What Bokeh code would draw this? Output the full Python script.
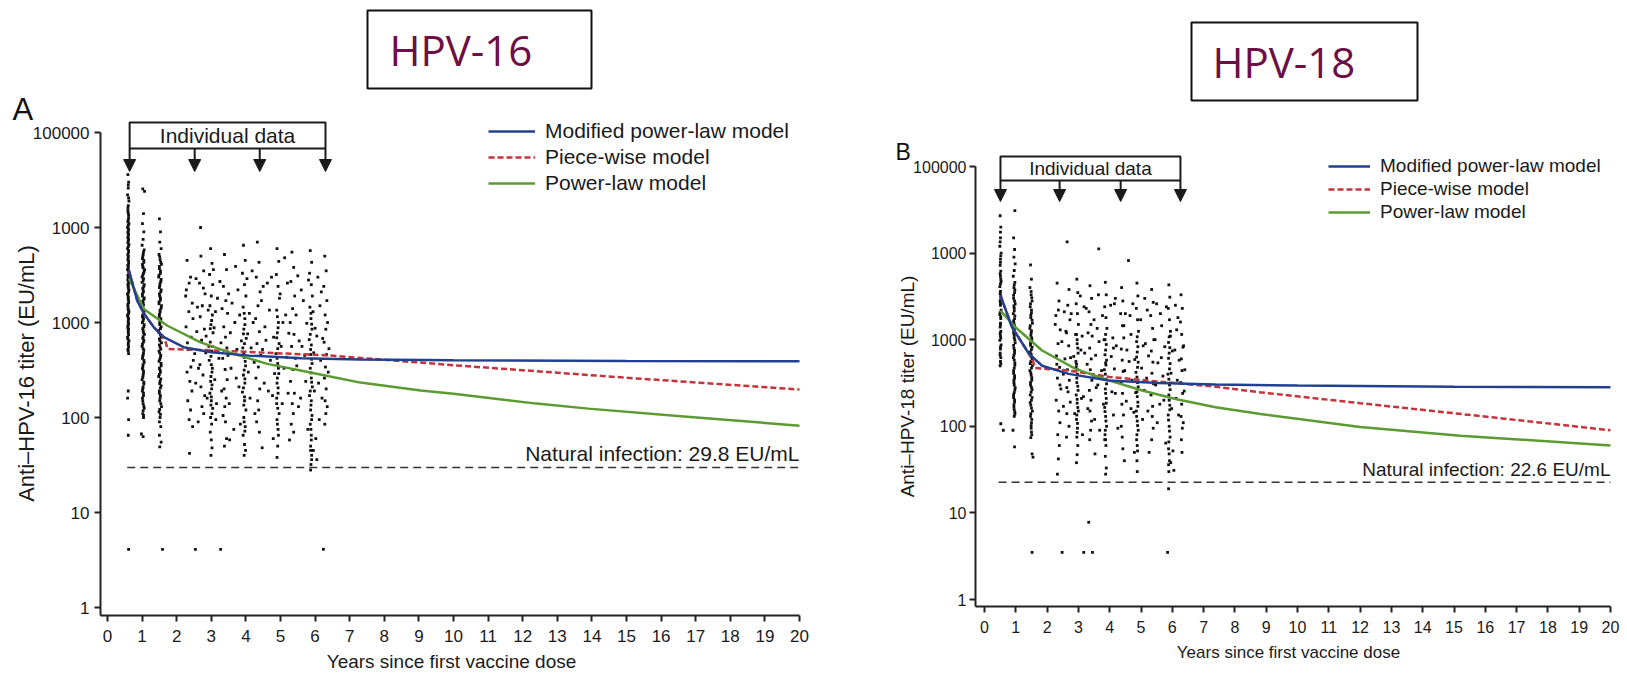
import math
from bokeh.plotting import figure
from bokeh.layouts import row
from bokeh.models import (Range1d, FixedTicker, Label, Legend, LegendItem,
                          Arrow, NormalHead, BoxAnnotation)
from bokeh.embed import file_html
from bokeh.resources import INLINE

# ---------------------------------------------------------------- data
year_ticks = list(range(0, 21))
titer_ticks = [1, 10, 100, 1000, 10000, 100000]
titer_tick_labels = ["1", "10", "100", "1000", "1000", "100000"]
model_names = ["Modified power-law model", "Piece-wise model", "Power-law model"]

# HPV-16 (panel A) model curves: years, EU/mL
a_mod_x = [0.62, 0.86, 1.05, 1.34, 1.63, 2.2, 3.0, 4.1, 5.6, 7.3, 10, 15, 20]
a_mod_y = [3520, 1700, 1245, 890, 700, 550, 486, 448, 420, 407, 400, 393, 390]
a_pw_x = [0.62, 0.86, 1.05, 1.34, 1.58, 1.68, 1.74, 3.0, 4.5, 6.4, 10, 15, 20]
a_pw_y = [3520, 1700, 1245, 890, 730, 620, 525, 510, 482, 450, 355, 262, 197]
a_pl_x = [0.62, 1.05, 1.72, 2.69, 3.65, 4.62, 5.58, 6.54, 7.31, 9.05, 10, 12.4, 13.9, 16.75, 20]
a_pl_y = [2900, 1390, 930, 617, 468, 367, 313, 265, 233, 192, 178, 140, 124, 102, 82]
a_natural = 29.8
a_natural_x = [0.57, 20]
a_visits = [0.64, 2.52, 4.40, 6.30]

# HPV-18 (panel B) model curves
b_mod_x = [0.51, 0.88, 1.42, 1.84, 2.69, 3.97, 5.57, 7.38, 10, 15, 20]
b_mod_y = [3240, 1393, 688, 500, 403, 338, 316, 304, 295, 287, 282]
b_pw_x = [0.51, 0.88, 1.42, 1.55, 1.62, 2.7, 4.0, 5.5, 7.4, 8.8, 12, 16.3, 20]
b_pw_y = [3240, 1393, 688, 560, 470, 440, 372, 330, 286, 247, 185, 126, 90]
b_pl_x = [0.51, 0.99, 1.84, 2.91, 3.97, 5.04, 6.1, 7.38, 8.82, 12.0, 15.2, 20]
b_pl_y = [2170, 1390, 750, 461, 339, 259, 207, 166, 139, 98, 78, 60]
b_natural = 22.6
b_natural_x = [0.45, 20]
b_visits = [0.51, 2.40, 4.35, 6.26]

# Individual titers, panel A: (years, EU/mL)
a_month7 = [(0.59,36000),(0.61,30000),(0.60,26000),(0.58,22000),(0.62,19000),(0.60,17000),(0.59,15000),(0.61,13500),(0.60,12000),(0.62,11000),(0.58,10000),(0.60,9200),(0.61,8500),(0.59,7800),(0.60,7200),(0.62,6600),(0.58,6000),(0.61,5500),(0.60,5000),(0.59,4600),(0.61,4200),(0.60,3900),(0.58,3600),(0.62,3300),(0.60,3000),(0.59,2800),(0.61,2600),(0.60,2400),(0.62,2200),(0.58,2000),(0.60,1850),(0.61,1700),(0.59,1550),(0.60,1400),(0.62,1300),(0.58,1200),(0.61,1100),(0.60,1000),(0.59,920),(0.61,850),(0.60,780),(0.58,700),(0.62,640),(0.60,580),(0.59,520),(0.61,470),(0.60,190),(0.58,160),(0.61,95),(0.60,65),(0.61,4.1),
    (0.60,28000),(0.61,20500),(0.59,16000),(0.60,14200),(0.61,12700),(0.59,11500),(0.60,10500),(0.61,9600),(0.59,8800),(0.60,8100),(0.61,7500),(0.59,6900),(0.60,6300),(0.61,5700),(0.59,5200),(0.60,4800),(0.61,4400),(0.59,4000),(0.60,3700),(0.61,3450),(0.59,3150),(0.60,2900),(0.61,2700),(0.59,2500),(0.60,2300),(0.61,2100),(0.59,1950),(0.60,1780),(0.61,1620),(0.59,1480),(0.60,1350),(0.61,1250),(0.59,1150),(0.60,1050),(0.61,960),(0.59,880),(0.60,820),(0.61,740),(0.59,670),(0.60,610),(0.61,550),(0.60,500)]
a_month12 = [(1.02,25500),(1.07,24000),(1.04,14000),(1.01,11000),(1.05,9000),(1.03,7500),(1.00,6500),(1.06,5800),(1.03,5200),(1.01,4700),(1.05,4300),(1.02,3900),(1.07,3600),(1.04,3300),(1.00,3000),(1.03,2750),(1.06,2500),(1.02,2300),(1.04,2100),(1.01,1900),(1.05,1750),(1.03,1600),(1.00,1450),(1.06,1330),(1.02,1200),(1.04,1100),(1.01,1000),(1.05,900),(1.03,820),(1.07,750),(1.02,680),(1.04,620),(1.00,560),(1.05,510),(1.03,460),(1.01,420),(1.06,380),(1.02,340),(1.04,310),(1.03,280),(1.00,250),(1.05,225),(1.02,200),(1.04,180),(1.01,160),(1.03,140),(1.06,125),(1.02,110),(1.04,100),(0.98,67),(1.03,63),
    (1.04,5500),(1.02,4900),(1.05,4500),(1.01,4100),(1.03,3750),(1.06,3450),(1.02,3150),(1.04,2900),(1.00,2650),(1.05,2400),(1.03,2200),(1.01,2000),(1.06,1820),(1.02,1680),(1.04,1520),(1.03,1390),(1.05,1270),(1.01,1150),(1.03,1050),(1.06,950),(1.02,860),(1.04,780),(1.03,710),(1.05,650),(1.01,590),(1.03,530),(1.04,480),(1.02,440),(1.05,400),(1.03,360),(1.01,325),(1.04,295),(1.02,265),(1.05,235),(1.03,210),(1.01,190),(1.04,170),(1.02,150),(1.05,132),(1.03,118),(1.04,105)]
a_month18 = [(1.50,12300),(1.53,9000),(1.51,7000),(1.55,6000),(1.49,5200),(1.52,4600),(1.56,4100),(1.50,3700),(1.53,3300),(1.48,3000),(1.54,2700),(1.51,2450),(1.55,2200),(1.50,2000),(1.53,1800),(1.49,1650),(1.56,1500),(1.52,1350),(1.50,1220),(1.54,1100),(1.51,1000),(1.55,900),(1.48,820),(1.53,740),(1.50,670),(1.56,610),(1.52,550),(1.49,500),(1.54,450),(1.51,410),(1.55,370),(1.50,330),(1.53,300),(1.48,270),(1.52,240),(1.55,215),(1.50,190),(1.53,170),(1.51,150),(1.56,130),(1.49,115),(1.52,100),(1.54,80),(1.50,65),(1.55,55),(1.51,49),(1.59,4.1),
    (1.51,4900),(1.54,4300),(1.50,3900),(1.53,3500),(1.49,3150),(1.55,2850),(1.52,2580),(1.50,2330),(1.54,2100),(1.51,1900),(1.53,1720),(1.49,1570),(1.55,1420),(1.52,1290),(1.50,1160),(1.54,1050),(1.51,950),(1.53,860),(1.49,780),(1.55,700),(1.52,640),(1.50,580),(1.54,525),(1.51,475),(1.53,430),(1.49,390),(1.55,350),(1.52,315),(1.50,285),(1.54,255),(1.51,228),(1.53,205),(1.50,180),(1.52,160),(1.54,140),(1.51,122),(1.53,108),(1.50,90)]
a_followup = [(2.30,4500),(2.40,3000),(2.28,2200),(2.45,1600),(2.35,1300),(2.27,900),(2.42,700),(2.33,520),(2.48,400),(2.30,300),(2.38,240),(2.44,190),(2.32,150),(2.40,120),(2.36,95),(2.46,80),(2.37,42),(2.54,4.1),(2.69,10000),
    (2.70,5000),(2.78,3500),(2.66,2600),(2.82,2000),(2.74,1500),(2.68,1150),(2.80,850),(2.72,650),(2.84,480),(2.67,360),(2.76,280),(2.70,210),(2.81,170),(2.73,130),(2.78,110),
    (2.98,6000),(3.02,4200),(2.95,3200),(3.04,2500),(3.00,1900),(2.96,1500),(3.03,1200),(2.99,950),(3.05,780),(2.97,620),(3.01,500),(2.94,400),(3.03,330),(2.99,270),(3.02,220),(2.96,180),(3.00,150),(3.04,125),(2.98,100),(3.01,85),(2.97,70),(3.00,58),(3.02,48),(2.99,40),
    (3.38,5200),(3.44,3600),(3.35,2400),(3.42,1700),(3.47,1250),(3.36,900),(3.41,700),(3.45,540),(3.33,420),(3.40,320),(3.46,250),(3.37,200),(3.43,160),(3.39,130),(3.34,105),(3.41,90),(3.44,60),(3.38,50),(3.27,4.1),
    (3.93,6500),(3.98,4500),(3.90,3300),(3.96,2500),(4.00,1900),(3.92,1450),(3.97,1100),(3.94,850),(4.01,680),(3.91,540),(3.95,430),(3.99,350),(3.93,280),(3.97,230),(3.90,185),(3.96,150),(4.00,120),(3.94,100),(3.98,80),(3.92,65),(3.96,52),(3.99,45),(3.95,40),
    (4.33,7000),(4.38,4300),(4.30,3000),(4.41,2100),(4.35,1500),(4.28,1100),(4.39,800),(4.32,600),(4.43,450),(4.36,340),(4.29,260),(4.40,200),(4.34,150),(4.37,120),(4.31,90),(4.39,70),
    (4.90,6000),(4.95,4400),(4.88,3200),(4.93,2400),(4.97,1800),(4.89,1350),(4.94,1000),(4.91,780),(4.96,600),(4.87,470),(4.92,370),(4.95,290),(4.90,230),(4.93,180),(4.89,140),(4.96,110),(4.91,85),(4.94,65),(4.92,50),(4.90,38),
    (5.33,5500),(5.38,3800),(5.30,2700),(5.41,1900),(5.35,1400),(5.28,1000),(5.39,750),(5.32,560),(5.43,420),(5.36,320),(5.29,240),(5.40,180),(5.34,140),(5.37,110),(5.31,85),(5.38,70),
    (5.86,5700),(5.90,4300),(5.84,3300),(5.89,2500),(5.92,1900),(5.85,1450),(5.88,1100),(5.91,850),(5.83,660),(5.87,520),(5.90,410),(5.86,330),(5.89,260),(5.92,210),(5.84,170),(5.88,135),(5.91,105),(5.86,85),(5.89,65),(5.87,50),(5.90,40),(5.88,32),(5.87,28),
    (6.28,5000),(6.32,3500),(6.25,2400),(6.34,1700),(6.29,1200),(6.31,850),(6.26,620),(6.33,460),(6.30,340),(6.27,260),(6.32,200),(6.29,150),(6.31,110),(6.28,85),(6.24,4.1),
    (2.56,2900),(2.58,800),(2.55,230),(3.18,1800),(3.22,420),(3.15,140),(3.70,3900),(3.68,1000),(3.72,260),(3.65,75),(4.62,2600),(4.58,650),(4.65,190),(5.12,4800),(5.15,1200),(5.10,330),(5.60,2200),(5.62,560),(5.58,160),(6.08,3000),(6.05,720),(6.10,230),(6.12,95)]
a_followup_more = [(2.26,1900),(2.31,610),(2.36,2600),(2.41,340),(2.47,1100),(2.52,470),(2.60,1450),(2.63,330),(2.77,2300),(2.85,720),(2.88,160),(2.91,1350),(2.93,560),(3.06,3600),(3.08,880),(3.10,250),(3.12,1300),(3.13,95),(3.25,2700),(3.28,610),(3.30,190),(3.31,1400),(3.48,450),(3.50,2000),(3.52,140),(3.55,780),(3.57,330),(3.60,1600),(3.74,520),(3.77,2200),(3.80,210),(3.82,1200),(3.84,85),(3.87,640),(4.03,2900),(4.05,760),(4.07,300),(4.10,1250),(4.12,160),(4.15,540),(4.18,3500),(4.21,1000),(4.24,380),(4.26,110),(4.45,1700),(4.48,520),(4.50,2400),(4.53,230),(4.55,900),(4.68,1350),(4.71,400),(4.74,3000),(4.77,170),(4.80,700),(4.83,290),(4.99,2000),(5.02,560),(5.05,140),(5.07,1000),(5.18,430),(5.20,2600),(5.22,180),(5.24,770),(5.26,58),(5.45,1200),(5.47,350),(5.50,3100),(5.52,130),(5.54,640),(5.66,1700),(5.70,450),(5.73,240),(5.76,980),(5.79,75),(5.81,2800),(5.94,1300),(5.96,480),(5.98,190),(6.00,870),(6.02,60),(6.14,1500),(6.16,400),(6.18,2100),(6.20,160),(6.22,680),(6.36,1000),(6.38,300),(6.40,530),(6.35,130),(2.62,90),(3.53,58),(4.47,48),(4.79,60),(5.95,45),(6.05,36),
    (3.01,1050),(2.97,860),(3.03,560),(2.99,440),(3.00,360),(3.02,300),(2.98,240),(3.01,200),(3.00,165),(2.99,135),(3.02,110),
    (3.95,1250),(3.97,950),(3.93,760),(3.96,600),(3.94,480),(3.98,390),(3.95,315),(3.97,255),(3.93,205),(3.96,165),(3.94,135),(3.95,90),(3.97,72),
    (4.91,1150),(4.93,880),(4.89,690),(4.92,530),(4.90,420),(4.94,330),(4.91,260),(4.93,205),(4.89,160),(4.92,125),(4.90,95),(4.93,75),
    (5.88,1250),(5.90,960),(5.86,750),(5.89,580),(5.87,460),(5.91,370),(5.88,295),(5.90,235),(5.86,190),(5.89,150),(5.87,120),(5.90,95),(5.88,75),(5.89,58),(5.87,45),(5.90,36)]

# Individual titers, panel B
b_month7 = [(0.50,27000),(0.52,20000),(0.51,15000),(0.49,12000),(0.53,10000),(0.51,8500),(0.50,7200),(0.52,6200),(0.51,5400),(0.53,4700),(0.49,4100),(0.51,3600),(0.52,3200),(0.50,2800),(0.51,2500),(0.53,2200),(0.49,1950),(0.52,1750),(0.51,1550),(0.50,1400),(0.52,1250),(0.51,1100),(0.49,980),(0.53,870),(0.51,780),(0.50,700),(0.52,620),(0.51,560),(0.50,500),(0.52,107),(0.60,90),
    (0.51,17500),(0.50,13500),(0.52,9300),(0.51,7800),(0.50,5800),(0.52,5000),(0.51,4400),(0.50,3400),(0.52,3000),(0.51,2650),(0.50,2050),(0.52,1850),(0.51,1480),(0.50,1180),(0.52,1040),(0.51,820),(0.50,660),(0.52,530)]
b_month12 = [(0.97,31000),(0.93,15000),(0.96,11000),(0.94,9000),(0.98,7500),(0.95,6300),(0.92,5400),(0.97,4600),(0.94,4000),(0.96,3500),(0.93,3000),(0.98,2600),(0.95,2300),(0.92,2000),(0.96,1750),(0.94,1550),(0.97,1350),(0.93,1200),(0.95,1050),(0.98,920),(0.94,800),(0.96,700),(0.92,620),(0.97,540),(0.95,470),(0.93,410),(0.96,360),(0.94,320),(0.98,280),(0.95,245),(0.93,215),(0.96,190),(0.94,165),(0.97,145),(0.95,130),(0.91,90),(0.96,58),
    (0.95,4300),(0.97,3750),(0.93,3250),(0.96,2800),(0.94,2450),(0.95,2150),(0.97,1880),(0.93,1650),(0.96,1450),(0.94,1280),(0.95,1120),(0.97,990),(0.93,860),(0.96,750),(0.94,660),(0.95,580),(0.97,505),(0.93,440),(0.96,385),(0.94,340),(0.95,300),(0.97,262),(0.93,230),(0.96,202),(0.94,178),(0.95,155),(0.97,138)]
b_month18 = [(1.47,7300),(1.50,5000),(1.45,4000),(1.49,3300),(1.52,2800),(1.46,2400),(1.50,2050),(1.48,1800),(1.53,1550),(1.45,1350),(1.49,1200),(1.51,1050),(1.47,920),(1.52,820),(1.46,720),(1.50,640),(1.48,560),(1.53,500),(1.45,440),(1.49,390),(1.51,340),(1.47,300),(1.52,265),(1.46,230),(1.50,200),(1.48,175),(1.53,150),(1.47,130),(1.50,110),(1.49,95),(1.51,80),(1.48,74),(1.52,48),(1.55,44),(1.52,3.5),
    (1.49,3600),(1.51,3050),(1.47,2600),(1.50,2200),(1.48,1920),(1.52,1680),(1.46,1450),(1.50,1270),(1.48,1120),(1.51,980),(1.47,860),(1.50,770),(1.49,680),(1.52,600),(1.46,530),(1.50,470),(1.48,415),(1.51,365),(1.47,320),(1.50,282),(1.49,248),(1.52,215),(1.46,188),(1.50,162),(1.48,140),(1.51,120),(1.49,102),(1.50,86)]
b_followup = [(2.32,4500),(2.38,2800),(2.28,1900),(2.42,1300),(2.35,900),(2.30,650),(2.40,480),(2.33,360),(2.44,270),(2.29,200),(2.37,150),(2.41,110),(2.34,80),(2.39,60),(2.36,42),(2.33,28),(2.48,3.5),
    (2.64,13500),(2.70,3800),(2.66,2500),(2.73,1700),(2.62,1200),(2.69,850),(2.75,620),(2.65,450),(2.71,340),(2.67,250),(2.74,190),(2.63,140),(2.70,100),
    (2.95,5000),(2.98,3500),(2.93,2600),(2.97,2000),(3.00,1500),(2.94,1150),(2.96,900),(2.99,700),(2.92,560),(2.97,450),(2.95,360),(2.98,290),(2.93,230),(2.96,185),(3.00,150),(2.94,120),(2.97,95),(2.95,75),(2.98,60),(2.96,47),(2.94,38),
    (3.37,4200),(3.42,3000),(3.34,2100),(3.40,1500),(3.44,1100),(3.36,800),(3.41,600),(3.38,450),(3.43,340),(3.35,260),(3.40,200),(3.37,150),(3.42,115),(3.39,90),(3.36,70),(3.33,7.8),(3.17,3.5),(3.45,3.5),
    (3.65,11200),(3.86,4600),(3.89,3300),(3.84,2400),(3.88,1800),(3.91,1350),(3.85,1000),(3.87,760),(3.90,580),(3.83,450),(3.88,350),(3.86,270),(3.89,210),(3.84,165),(3.87,130),(3.90,100),(3.85,80),(3.88,60),(3.86,45),(3.89,33),(3.87,28),
    (4.60,8200),(4.38,4000),(4.42,2800),(4.35,2000),(4.41,1450),(4.45,1050),(4.37,780),(4.40,580),(4.43,430),(4.36,320),(4.41,240),(4.39,180),(4.44,135),(4.37,100),(4.40,75),(4.42,55),
    (4.87,4500),(4.90,3200),(4.85,2300),(4.89,1700),(4.92,1250),(4.86,950),(4.88,720),(4.91,550),(4.84,420),(4.89,320),(4.87,250),(4.90,190),(4.85,150),(4.88,115),(4.91,90),(4.86,70),(4.89,52),(4.87,40),(4.88,30),
    (5.34,3800),(5.39,2700),(5.31,1900),(5.37,1350),(5.41,1000),(5.33,740),(5.38,550),(5.35,410),(5.40,310),(5.32,230),(5.37,170),(5.36,130),(5.39,95),(5.34,70),
    (5.89,4300),(5.92,3100),(5.87,2300),(5.91,1700),(5.94,1250),(5.88,930),(5.90,700),(5.93,530),(5.86,400),(5.91,300),(5.89,230),(5.92,175),(5.87,135),(5.90,100),(5.93,75),(5.88,55),(5.91,40),(5.89,30),(5.88,19),(5.85,3.5),
    (6.28,3300),(6.32,2300),(6.26,1600),(6.30,1150),(6.34,820),(6.29,600),(6.31,440),(6.27,320),(6.33,240),(6.30,180),(6.28,130),(6.32,95),(6.29,70),(6.31,50),
    (2.55,2100),(2.57,600),(2.52,170),(3.18,2400),(3.20,700),(3.16,220),(3.64,3300),(3.66,950),(3.62,300),(3.68,90),(4.15,2600),(4.12,800),(4.18,240),(4.65,1900),(4.62,560),(4.68,160),(5.12,3000),(5.14,900),(5.10,260),(5.62,2000),(5.65,620),(5.60,180),(6.10,2500),(6.08,760),(6.12,210)]
b_followup_more = [(2.26,1500),(2.31,520),(2.36,2200),(2.41,300),(2.47,950),(2.52,400),(2.60,1250),(2.63,280),(2.77,2000),(2.85,640),(2.88,140),(2.91,1150),(2.93,480),(3.06,3200),(3.08,760),(3.10,210),(3.12,1100),(3.13,80),(3.25,2300),(3.28,520),(3.30,160),(3.31,1200),(3.48,390),(3.50,1700),(3.52,120),(3.55,660),(3.57,280),(3.60,1350),(3.74,440),(3.77,1900),(3.80,180),(3.82,1000),(3.84,70),(3.87,540),(4.03,2500),(4.05,640),(4.07,250),(4.10,1050),(4.12,135),(4.15,460),(4.18,3000),(4.21,850),(4.24,320),(4.26,95),(4.45,1450),(4.48,440),(4.50,2000),(4.53,195),(4.55,760),(4.68,1150),(4.71,340),(4.74,2600),(4.77,145),(4.80,590),(4.83,245),(4.99,1700),(5.02,470),(5.05,120),(5.07,850),(5.18,360),(5.20,2200),(5.22,150),(5.24,650),(5.26,50),(5.45,1000),(5.47,300),(5.50,2600),(5.52,110),(5.54,540),(5.66,1450),(5.70,380),(5.73,200),(5.76,830),(5.79,64),(5.81,2400),(5.94,1100),(5.96,410),(5.98,160),(6.00,740),(6.02,52),(6.14,1300),(6.16,340),(6.18,1800),(6.20,135),(6.22,580),(6.36,850),(6.38,255),(6.40,450),(6.35,110),(2.62,75),(3.53,48),(4.47,40),(4.79,50),(5.95,38),(6.05,31),
    (2.96,1000),(2.98,800),(2.94,520),(2.97,400),(2.95,320),(2.99,260),(2.96,205),(2.98,165),(2.95,135),(2.97,108),(2.96,85),
    (3.87,1150),(3.89,880),(3.85,670),(3.88,510),(3.86,400),(3.90,310),(3.87,240),(3.89,185),(3.85,148),(3.88,115),(3.86,90),(3.87,70),
    (4.88,1080),(4.90,830),(4.86,630),(4.89,480),(4.87,370),(4.91,285),(4.88,220),(4.90,170),(4.86,130),(4.89,102),(4.87,80),(4.88,60),
    (5.90,1080),(5.92,810),(5.88,610),(5.91,460),(5.89,350),(5.93,265),(5.90,200),(5.92,155),(5.88,118),(5.91,88),(5.89,66),(5.90,48),(5.88,36)]

# ---------------------------------------------------------------- style
FONT = "Liberation Sans"
BLUE = "#22408f"
RED = "#c4343a"
GREEN = "#5c9a32"
INK = "#1a1a1a"
MAROON = "#6b0f44"
H = 676


def build(g, groups, curves, natural, natural_x, visits, hpv, letter, ytitle, fs):
    # page pixel -> data coordinate (frame covers the whole figure)
    X = lambda px: (px - g["x0"]) / g["xs"]
    Y = lambda py: 10 ** (5 - (py - g["y5"]) / g["dec"])

    p = figure(width=g["width"], height=H, y_axis_type="log",
               x_range=Range1d(X(g["offset"]), X(g["offset"] + g["width"])),
               y_range=Range1d(Y(H), Y(0)),
               output_backend="svg", toolbar_location=None, title=None,
               min_border_left=0, min_border_right=0, min_border_top=0, min_border_bottom=0)
    p.outline_line_color = None
    p.xgrid.visible = False
    p.ygrid.visible = False

    # axes, drawn at fixed positions inside the canvas
    xa, ya = p.xaxis[0], p.yaxis[0]
    xa.fixed_location = Y(g["bottom"])
    ya.fixed_location = X(g["left"])
    xa.ticker = FixedTicker(ticks=year_ticks)
    xa.bounds = (X(g["left"]), 20)
    ya.ticker = FixedTicker(ticks=titer_ticks)
    ya.major_label_overrides = {t: s for t, s in zip(titer_ticks, titer_tick_labels)}
    ya.bounds = (Y(g["bottom"]), 100000)
    for ax in (xa, ya):
        ax.axis_line_width = 2
        ax.axis_line_color = "#222222"
        ax.major_tick_line_width = 2
        ax.major_tick_line_color = "#222222"
        ax.major_tick_out = 6
        ax.major_tick_in = 0
        ax.minor_tick_line_color = None
        ax.major_label_text_font = FONT
        ax.major_label_text_font_size = fs["tick"]
        ax.major_label_text_color = INK
    xa.major_label_standoff = fs["xstand"]
    ya.major_label_standoff = fs["ystand"]

    # individual data points
    xs = [pt[0] for grp in groups for pt in grp]
    ys = [pt[1] for grp in groups for pt in grp]
    p.scatter(xs, ys, marker="square", size=2.8, fill_color="#111111", line_color=None)

    # natural infection threshold
    p.line(natural_x, [natural, natural], line_color="#333333", line_width=1.6, line_dash="8 5")
    p.add_layout(Label(x=20, y=Y(g["nat_mid"]), text="Natural infection: %.1f EU/mL" % natural,
                       text_align="right", text_baseline="middle", text_font=FONT,
                       text_font_size=fs["text"], text_color=INK))

    # model curves
    (mx, my), (wx, wy), (lx, ly) = curves
    r_pw = p.line(wx, wy, line_color=RED, line_width=2.5, line_dash="6 3")
    r_pl = p.line(lx, ly, line_color=GREEN, line_width=2.5)
    r_mod = p.line(mx, my, line_color=BLUE, line_width=2.5)

    leg = Legend(items=[LegendItem(label=model_names[0], renderers=[r_mod]),
                        LegendItem(label=model_names[1], renderers=[r_pw]),
                        LegendItem(label=model_names[2], renderers=[r_pl])],
                 location=g["leg_loc"], orientation="vertical",
                 glyph_width=g["leg_gw"], glyph_height=fs["leg_h"], label_height=fs["leg_h"],
                 spacing=g["leg_sp"], padding=0, margin=0, label_standoff=10,
                 border_line_color=None, background_fill_alpha=0,
                 label_text_font=FONT, label_text_font_size=fs["text"], label_text_color=INK)
    p.add_layout(leg)

    # "Individual data" bracket with arrows to the visit times
    box_top, box_bot, tip = Y(g["box_top"]), Y(g["box_bot"]), Y(g["arrow_tip"])
    p.add_layout(BoxAnnotation(left=visits[0], right=visits[-1], top=box_top, bottom=box_bot,
                               fill_color=None, fill_alpha=0, line_color="#1a1a1a",
                               line_alpha=1.0, line_width=2))
    p.add_layout(Label(x=(visits[0] + visits[-1]) / 2, y=math.sqrt(box_top * box_bot),
                       text="Individual data", text_align="center", text_baseline="middle",
                       text_font=FONT, text_font_size=fs["text"], text_color=INK))
    for v in visits:
        p.add_layout(Arrow(end=NormalHead(size=12, fill_color="#1a1a1a", line_color="#1a1a1a"),
                           x_start=v, y_start=box_bot, x_end=v, y_end=tip,
                           line_width=2, line_color="#1a1a1a"))

    # HPV title box
    tl, tr, tt, tb = g["tbox"]
    p.add_layout(BoxAnnotation(left=X(tl), right=X(tr), top=Y(tt), bottom=Y(tb),
                               fill_color="white", fill_alpha=1, line_color="#111111",
                               line_alpha=1.0, line_width=2))
    p.add_layout(Label(x=X(g["ttext"][0]), y=Y(g["ttext"][1]), text=hpv, text_align="left",
                       text_baseline="middle", text_font="Open Sans",
                       text_font_size=fs["hpv"], text_color=MAROON))

    # panel letter, axis titles
    p.add_layout(Label(x=X(g["letter"][0]), y=Y(g["letter"][1]), text=letter, text_align="left",
                       text_baseline="middle", text_font=FONT,
                       text_font_size=fs["letter"], text_color="#111111"))
    p.add_layout(Label(x=X(g["ytitle"][0]), y=Y(g["ytitle"][1]), text=ytitle, angle=math.pi / 2,
                       text_align="center", text_baseline="middle", text_font=FONT,
                       text_font_size=fs["ytitle"], text_color=INK))
    p.add_layout(Label(x=X(g["xtitle"][0]), y=Y(g["xtitle"][1]), text="Years since first vaccine dose",
                       text_align="center", text_baseline="middle", text_font=FONT,
                       text_font_size=fs["xtitle"], text_color=INK))
    return p


geo_a = dict(x0=107.0, xs=34.6, y5=132.0, dec=95.0, left=100, bottom=615,
             width=830, offset=0, nat_mid=453, box_top=122, box_bot=148,
             arrow_tip=171, tbox=(367, 591, 10, 88), ttext=(389, 49), letter=(12, 109),
             ytitle=(26, 373), xtitle=(451, 661), leg_loc=(488, 481), leg_gw=47, leg_sp=2)
fs_a = dict(tick="17px", xstand=8, ystand=5, xtitle="19px", text="21px", leg_h=24,
            hpv="42px", letter="31px", ytitle="22px")

geo_b = dict(x0=984.0, xs=31.3, y5=166.0, dec=86.6, left=975, bottom=606,
             width=797, offset=830, nat_mid=469, box_top=156, box_bot=180,
             arrow_tip=201, tbox=(1191, 1417, 22, 100), ttext=(1212, 61), letter=(895, 151),
             ytitle=(907, 386), xtitle=(1288, 652), leg_loc=(498, 453), leg_gw=42, leg_sp=1)
fs_b = dict(tick="16px", xstand=8, ystand=3, xtitle="17px", text="19px", leg_h=22,
            hpv="42px", letter="23px", ytitle="19px")

pA = build(geo_a, [a_month7, a_month12, a_month18, a_followup, a_followup_more],
           [(a_mod_x, a_mod_y), (a_pw_x, a_pw_y), (a_pl_x, a_pl_y)],
           a_natural, a_natural_x, a_visits, "HPV-16", "A", "Anti\u2013HPV-16 titer (EU/mL)", fs_a)
pB = build(geo_b, [b_month7, b_month12, b_month18, b_followup, b_followup_more],
           [(b_mod_x, b_mod_y), (b_pw_x, b_pw_y), (b_pl_x, b_pl_y)],
           b_natural, b_natural_x, b_visits, "HPV-18", "B", "Anti\u2013HPV-18 titer (EU/mL)", fs_b)

layout = row(pA, pB)
open("out.html", "w").write(file_html(layout, INLINE))
